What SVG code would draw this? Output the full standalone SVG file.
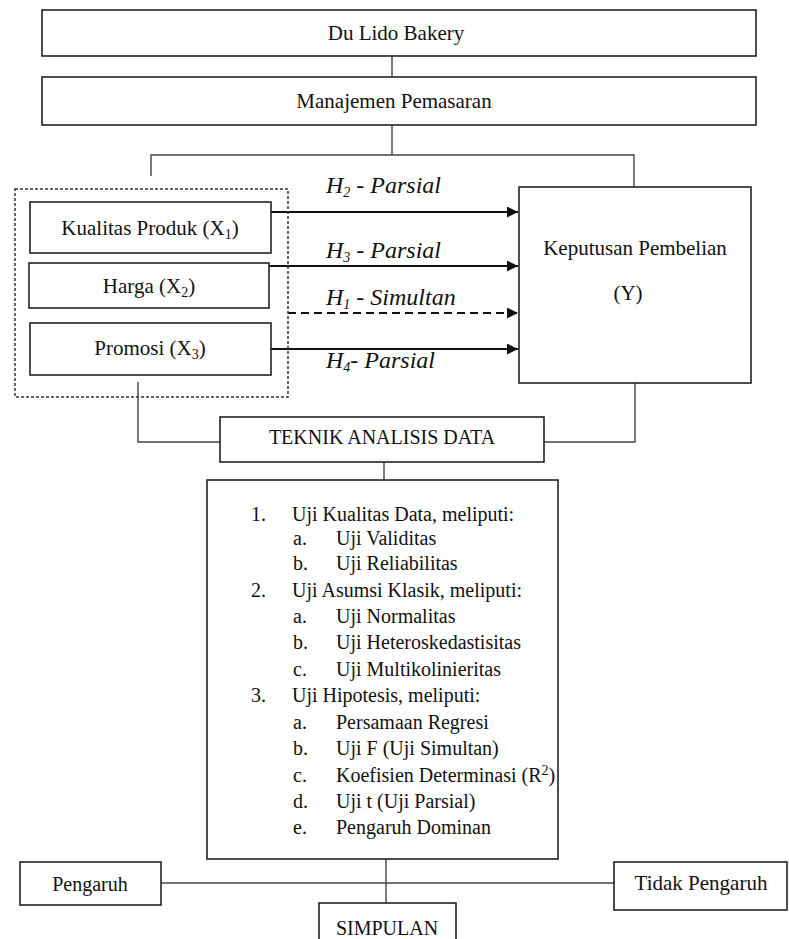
<svg xmlns="http://www.w3.org/2000/svg" width="789" height="939" viewBox="0 0 789 939">
<defs>
<style>
.box{fill:#fff;stroke:#222;stroke-width:1.6}
.ln{fill:none;stroke:#444;stroke-width:1.4}
.ar{fill:none;stroke:#111;stroke-width:2}
.t,.h,.l{font-family:'Liberation Serif',Tinos,'Times New Roman','DejaVu Serif',serif}
.t{font-size:21px;fill:#111;text-anchor:middle}
.h{font-size:24px;font-style:italic;fill:#111}
.l{font-size:20px;fill:#111}
.sub{font-size:14px}
</style>
<marker id="arr" viewBox="0 0 10 10" refX="10" refY="5" markerWidth="5.5" markerHeight="5.5" markerUnits="strokeWidth" orient="auto">
<path d="M0,0 L10,5 L0,10 z" fill="#111"/>
</marker>
</defs>

<g id="connectors">
<line class="ln" x1="392" y1="56" x2="392" y2="77"/>
<polyline class="ln" points="151,176 151,155 634,155 634,187"/>
<line class="ln" x1="392" y1="125" x2="392" y2="155"/>
<polyline class="ln" points="138,382 138,442 220,442"/>
<polyline class="ln" points="544,442 635,442 635,383"/>
<line class="ln" x1="384" y1="462" x2="384" y2="480"/>
<line class="ln" x1="386" y1="859" x2="386" y2="903"/>
<line class="ln" x1="161" y1="883" x2="614" y2="883"/>
<line class="ar" x1="271" y1="212" x2="518" y2="212" marker-end="url(#arr)"/>
<line class="ar" x1="269" y1="266" x2="518" y2="266" marker-end="url(#arr)"/>
<line class="ar" x1="288" y1="313" x2="518" y2="313" stroke-dasharray="8,5" marker-end="url(#arr)"/>
<line class="ar" x1="271" y1="349" x2="518" y2="349" marker-end="url(#arr)"/>
<text class="h" x="326" y="193">H<tspan class="sub" dy="4">2</tspan><tspan dy="-4"> - Parsial</tspan></text>
<text class="h" x="326" y="258">H<tspan class="sub" dy="4">3</tspan><tspan dy="-4"> - Parsial</tspan></text>
<text class="h" x="326" y="305">H<tspan class="sub" dy="4">1</tspan><tspan dy="-4"> - Simultan</tspan></text>
<text class="h" x="326" y="368">H<tspan class="sub" dy="4">4</tspan><tspan dy="-4">- Parsial</tspan></text>
</g>

<g id="du-lido">
<rect class="box" x="42" y="10" width="714" height="46"/>
<text class="t" x="396" y="40">Du Lido Bakery</text>
</g>
<g id="manajemen">
<rect class="box" x="42" y="77" width="714" height="48"/>
<text class="t" x="394" y="108">Manajemen Pemasaran</text>
</g>
<g id="variabel-x">
<rect x="15" y="189" width="273" height="208" fill="none" stroke="#333" stroke-width="1.5" stroke-dasharray="3,2"/>
</g>
<g id="kualitas">
<rect class="box" x="30" y="202" width="241" height="51"/>
<text class="t" x="150" y="235">Kualitas Produk (X<tspan class="sub" dy="4">1</tspan><tspan dy="-4">)</tspan></text>
</g>
<g id="harga">
<rect class="box" x="29" y="263" width="240" height="45"/>
<text class="t" x="149" y="293">Harga (X<tspan class="sub" dy="4">2</tspan><tspan dy="-4">)</tspan></text>
</g>
<g id="promosi">
<rect class="box" x="30" y="323" width="241" height="52"/>
<text class="t" x="150" y="355">Promosi (X<tspan class="sub" dy="4">3</tspan><tspan dy="-4">)</tspan></text>
</g>
<g id="keputusan">
<rect class="box" x="519" y="187" width="232" height="196"/>
<text class="t" x="635" y="255">Keputusan Pembelian</text>
<text class="t" x="628" y="300">(Y)</text>
</g>
<g id="teknik">
<rect class="box" x="220" y="417" width="324" height="45"/>
<text class="t" x="382" y="444" style="font-size:20px">TEKNIK ANALISIS DATA</text>
</g>
<g id="daftar-uji">
<rect class="box" x="207" y="480" width="351" height="379"/>
<text class="l" x="251" y="521">1.</text><text class="l" x="292" y="521">Uji Kualitas Data, meliputi:</text>
<text class="l" x="293" y="545">a.</text><text class="l" x="336" y="545">Uji Validitas</text>
<text class="l" x="293" y="570">b.</text><text class="l" x="336" y="570">Uji Reliabilitas</text>
<text class="l" x="251" y="597">2.</text><text class="l" x="292" y="597">Uji Asumsi Klasik, meliputi:</text>
<text class="l" x="293" y="623">a.</text><text class="l" x="336" y="623">Uji Normalitas</text>
<text class="l" x="293" y="649">b.</text><text class="l" x="336" y="649">Uji Heteroskedastisitas</text>
<text class="l" x="293" y="676">c.</text><text class="l" x="336" y="676">Uji Multikolinieritas</text>
<text class="l" x="251" y="702">3.</text><text class="l" x="292" y="702">Uji Hipotesis, meliputi:</text>
<text class="l" x="293" y="729">a.</text><text class="l" x="336" y="729">Persamaan Regresi</text>
<text class="l" x="293" y="755">b.</text><text class="l" x="336" y="755">Uji F (Uji Simultan)</text>
<text class="l" x="293" y="782">c.</text><text class="l" x="336" y="782">Koefisien Determinasi (R<tspan class="sub" dy="-7">2</tspan><tspan dy="7">)</tspan></text>
<text class="l" x="293" y="808">d.</text><text class="l" x="336" y="808">Uji t (Uji Parsial)</text>
<text class="l" x="293" y="834">e.</text><text class="l" x="336" y="834">Pengaruh Dominan</text>
</g>
<g id="pengaruh">
<rect class="box" x="20" y="862" width="141" height="43"/>
<text class="t" x="90" y="891" style="font-size:20px">Pengaruh</text>
</g>
<g id="tidak-pengaruh">
<rect class="box" x="614" y="862" width="173" height="48"/>
<text class="t" x="701" y="890">Tidak Pengaruh</text>
</g>
<g id="simpulan">
<rect class="box" x="319" y="903" width="137" height="50"/>
<text class="t" x="387" y="935" style="font-size:20px">SIMPULAN</text>
</g>
</svg>
